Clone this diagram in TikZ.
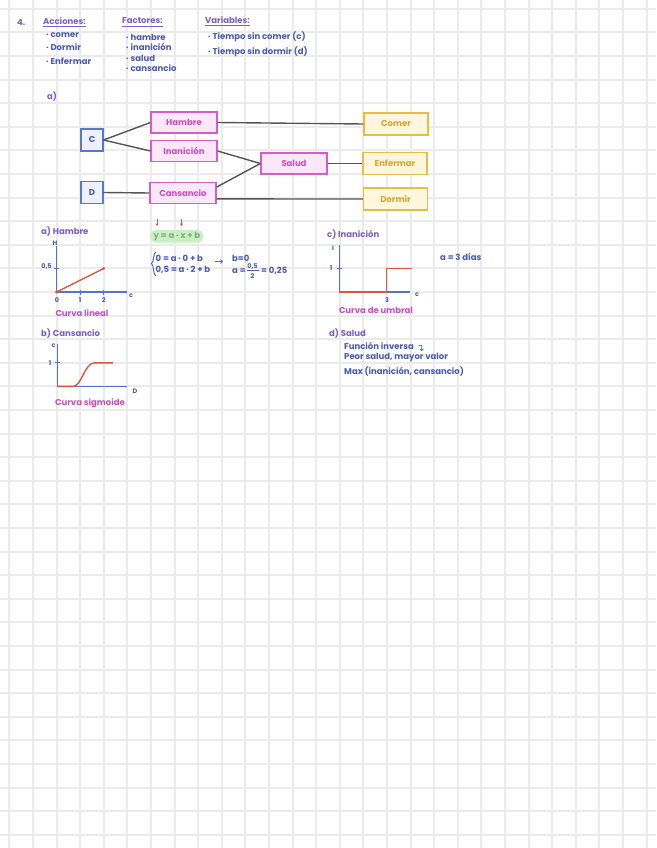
\documentclass[tikz,border=0pt]{standalone}
\usepackage{fontspec}
\setmainfont{Poppins}
\newfontfamily\symfont{DejaVu Sans}
\usetikzlibrary{calc,arrows.meta}
\definecolor{ttl}{HTML}{7B5FC7}
\definecolor{bodyc}{HTML}{4B5BB5}
\definecolor{pinkc}{HTML}{C94FC0}
\definecolor{redc}{HTML}{D9573F}
\definecolor{axisc}{HTML}{5B72C4}
\definecolor{bluebd}{HTML}{5A78C8}
\definecolor{bluefl}{HTML}{EEF1FB}
\definecolor{pinkbd}{HTML}{D45EC9}
\definecolor{pinkfl}{HTML}{FBE7F8}
\definecolor{yelbd}{HTML}{E6BD4A}
\definecolor{yelfl}{HTML}{FFF7DD}
\definecolor{yeltx}{HTML}{D4A52A}
\definecolor{greenfl}{HTML}{C9EFC3}
\definecolor{greentx}{HTML}{7FAE7F}
\definecolor{gridc}{HTML}{EBEBEB}
\definecolor{linkc}{HTML}{555555}
\begin{document}
\begin{tikzpicture}[x=1pt,y=-1pt,
  font=\fontsize{8.5}{9.5}\selectfont\bfseries,
  gridline/.style={gridc,line width=2pt},
  txt/.style={inner sep=0pt,anchor=west,text=bodyc},
  ttltxt/.style={inner sep=0pt,anchor=west,text=ttl},
  small/.style={inner sep=0pt,font=\fontsize{6.5}{7}\selectfont\bfseries,text=bodyc},
  pinktxt/.style={inner sep=0pt,text=pinkc},
  bluebox/.style={draw=bluebd,fill=bluefl,line width=1.1pt,minimum width=22pt,minimum height=22pt,inner sep=0pt,text=bodyc},
  pinkbox/.style={draw=pinkbd,fill=pinkfl,line width=1.1pt,minimum width=66pt,minimum height=21pt,inner sep=0pt,text=pinkc},
  yelbox/.style={draw=yelbd,fill=yelfl,line width=1.1pt,minimum width=64pt,minimum height=22pt,inner sep=0pt,text=yeltx},
  link/.style={linkc,line width=1.4pt},
  axis/.style={axisc,line width=1.3pt},
  curve/.style={redc,line width=1.4pt},
  uline/.style={ttl,line width=0.7pt}]
\useasboundingbox (0,0) rectangle (656,848);
\fill[white] (0,0) rectangle (656,848);
\foreach \i in {0,...,27} \draw[gridline] ({round(9.4+23.6*\i)},0) -- ({round(9.4+23.6*\i)},848);
\foreach \j in {0,...,35} \draw[gridline] (0,{round(8.8+23.6*\j)}) -- (656,{round(8.8+23.6*\j)});

% ---------- header ----------
\node[ttltxt] (n4) at (17,22) {4.};
\node[ttltxt] (acc) at (43,21) {Acciones:};
\draw[uline] ($(acc.south west)+(0,2)$) -- ($(acc.south east)+(0,2)$);
\node[txt] (a1) at (46,35) {· comer};
\node[txt] (a2) at (46,47) {· Dormir};
\node[txt] (a3) at (46,61) {· Enfermar};
\node[ttltxt] (fac) at (122,21) {Factores:};
\draw[uline] ($(fac.south west)+(0,2)$) -- ($(fac.south east)+(0,2)$);
\node[txt] (f1) at (126,37) {· hambre};
\node[txt] (f2) at (126,47) {· inanición};
\node[txt] (f3) at (126,58) {· salud};
\node[txt] (f4) at (126,68) {· cansancio};
\node[ttltxt] (var) at (205,20) {Variables:};
\draw[uline] ($(var.south west)+(0,2)$) -- ($(var.south east)+(0,2)$);
\node[txt] (v1) at (208,37) {· Tiempo sin comer (c)};
\node[txt] (v2) at (208,52) {· Tiempo sin dormir (d)};

% ---------- diagram ----------
\node[ttltxt] (lbla) at (47,97) {a)};
\node[bluebox] (C) at (92,140) {C};
\node[bluebox] (D) at (92,192.5) {D};
\node[pinkbox] (H) at (184,122.5) {Hambre};
\node[pinkbox] (I) at (184,151) {Inanición};
\node[pinkbox] (Ca) at (183,193) {Cansancio};
\node[pinkbox] (S) at (294,163.5) {Salud};
\node[yelbox] (Co) at (396,124) {Comer};
\node[yelbox] (E) at (395,163.5) {Enfermar};
\node[yelbox] (Do) at (395.5,199) {Dormir};
\draw[link] (C.east) -- (H.west);
\draw[link] (C.east) -- (I.west);
\draw[link] (D.east) -- (Ca.west);
\draw[link] (H.east) -- (Co.west);
\draw[link] (I.east) -- (S.west);
\draw[link] (Ca.10) -- (S.west);
\draw[link] (Ca.-10) -- (Do.west);
\draw[link] (S.east) -- (E.west);

% ---------- a) Hambre ----------
\node[ttltxt] (ta) at (41,232) {a) Hambre};
\draw[axis] (56.6,246) -- (56.6,292) -- (127,292);
\draw[axis] (54,268.4) -- (59.2,268.4);
\draw[axis] (80.2,289.5) -- (80.2,294.5);
\draw[axis] (103.8,289.5) -- (103.8,294.5);
\draw[curve] (56.6,292) -- (103.8,268.4);
\fill[redc] (56.6,292) circle (1.7pt) (103.8,268.4) circle (1.5pt);
\node[small] (ha) at (55,243) {H};
\node[small] (h05) at (46.5,266.5) {0,5};
\node[small] (h0) at (57,300) {0};
\node[small] (h1) at (80.2,300) {1};
\node[small] (h2) at (103.8,300) {2};
\node[small] (hc) at (131,296) {c};
\node[pinktxt] (cl) at (82,313) {Curva lineal};

% equation
\draw[fill=greenfl,draw=none,rounded corners=5pt] (150.5,230) rectangle (203,242.5);
\node[inner sep=0pt,text=greentx] (eqy) at (177,236.3) {y = a · x + b};
\draw[redc,line width=0.9pt,-{Stealth[length=2.4pt,width=2.8pt]}] (157,219) -- (157,226);
\draw[redc,line width=0.9pt,-{Stealth[length=2.4pt,width=2.8pt]}] (181.5,219) -- (181.5,226);
\draw[bodyc,line width=0.9pt] (156,252) .. controls (153,252) and (154,263) .. (151.5,263.5) .. controls (154,264) and (153,276) .. (156,276);
\node[txt] (e1) at (155.5,258) {0 = a · 0 + b};
\node[txt] (e2) at (155.5,270) {0,5 = a · 2 + b};
\node[inner sep=0pt,text=bodyc,font=\symfont\fontsize{11}{12}\selectfont] (arr) at (219,263) {→};
\node[txt] (b0) at (232,258) {b=0};
\node[txt] (aeq) at (232,271) {a =};
\node[small,text=bodyc] (fn) at (252.5,266.5) {0,5};
\draw[bodyc,line width=0.7pt] (246.5,270.8) -- (258.5,270.8);
\node[small] (fd) at (252.5,276.5) {2};
\node[txt] (ares) at (261,271) {= 0,25};

% ---------- c) Inanicion ----------
\node[ttltxt] (tc) at (327,235) {c) Inanición};
\draw[axis] (339.8,245) -- (339.8,292) -- (410,292);
\draw[axis] (337.3,268.4) -- (342.3,268.4);
\draw[curve] (339.8,292) -- (386.6,292) -- (386.6,268.4) -- (412,268.4);
\node[small] (ci) at (333,248) {I};
\node[small] (c1) at (331,268) {1};
\node[small] (c3) at (387,300) {3};
\node[small] (cc) at (417,295) {c};
\node[pinktxt] (cu) at (376,310) {Curva de umbral};
\node[txt] (a3d) at (440,257) {a = 3 días};

% ---------- b) Cansancio ----------
\node[ttltxt] (tb) at (41,334) {b) Cansancio};
\draw[axis] (57.5,344) -- (57.5,386.4) -- (127,386.4);
\draw[axis] (55,362.8) -- (60,362.8);
\draw[curve] (57.5,386.4) -- (73,386.4) .. controls (82,386.4) and (84,362.8) .. (95,362.8) -- (113,362.8);
\node[small] (bc) at (53.5,346) {c};
\node[small] (b1) at (50,362.8) {1};
\node[small] (bd) at (135,391) {D};
\node[pinktxt] (cs) at (90,403) {Curva sigmoide};

% ---------- d) Salud ----------
\node[ttltxt] (td) at (329,334) {d) Salud};
\node[txt] (d1) at (344,346) {Función inversa};
\node[inner sep=0pt,text=bodyc,font=\symfont\fontsize{10}{11}\selectfont,anchor=west] (darr) at ($(d1.east)+(2,2)$) {↴};
\node[txt] (d2) at (344,357) {Peor salud, mayor valor};
\node[txt] (d3) at (344,372) {Max (inanición, cansancio)};
\end{tikzpicture}
\end{document}
